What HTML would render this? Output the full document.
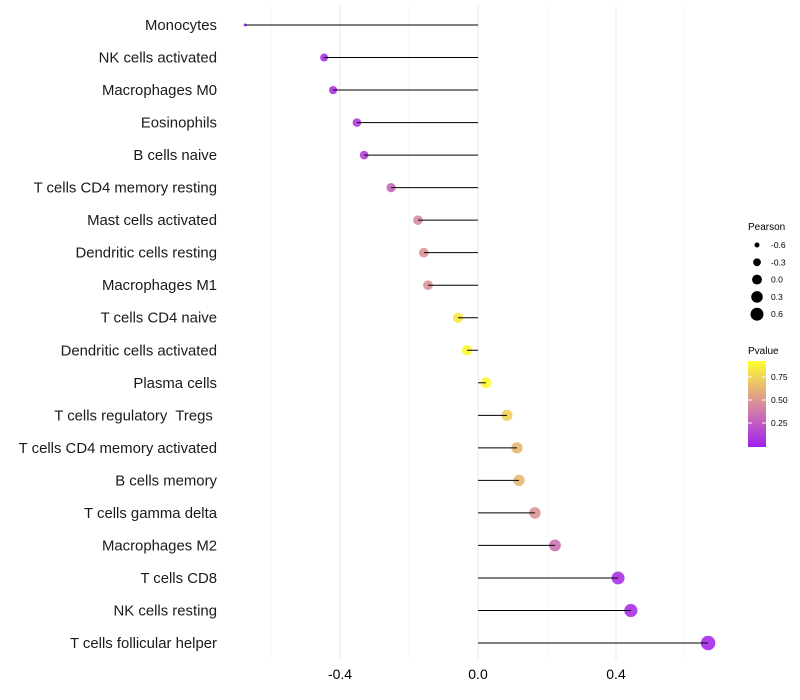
<!DOCTYPE html>
<html><head><meta charset="utf-8"><style>
body{margin:0;background:#fff;font-family:"Liberation Sans",sans-serif}
svg{display:block}
.yl{white-space:pre}
</style></head><body>
<svg id="chart" width="800" height="700">
<defs><linearGradient id="pg" x1="0" y1="1" x2="0" y2="0">
<stop offset="0" stop-color="#a020f0"/><stop offset="0.5" stop-color="#d98c9c"/><stop offset="1" stop-color="#ffff2e"/></linearGradient></defs>
<g id="grid"></g><g id="dots"></g><g id="stems"></g><g id="ylabels"></g><g id="xlabels"></g>
<g>
<text x="748" y="230" font-size="10" fill="#000">Pearson</text>
<g id="sizeleg"></g>
</g>
<g>
<text x="748" y="354" font-size="10" fill="#000">Pvalue</text>
<rect x="748" y="361" width="18" height="86" fill="url(#pg)"/>
<g id="colleg"></g>
</g>
</svg>
<script>
const categories=["Monocytes","NK cells activated","Macrophages M0","Eosinophils","B cells naive","T cells CD4 memory resting","Mast cells activated","Dendritic cells resting","Macrophages M1","T cells CD4 naive","Dendritic cells activated","Plasma cells","T cells regulatory  Tregs ","T cells CD4 memory activated","B cells memory","T cells gamma delta","Macrophages M2","T cells CD8","NK cells resting","T cells follicular helper"];
const pearson=[-0.675,-0.446,-0.42,-0.351,-0.33,-0.252,-0.174,-0.157,-0.145,-0.058,-0.032,0.023,0.084,0.113,0.119,0.165,0.223,0.406,0.443,0.667];
const pvalue=[0.01,0.05,0.06,0.1,0.12,0.3,0.45,0.5,0.5,0.85,0.92,0.92,0.75,0.65,0.65,0.5,0.35,0.05,0.04,0.02];
const xTicks=[-0.4,0,0.4];
const xTickLabels=["-0.4","0.0","0.4"];
const sizeLegend=[-0.6,-0.3,0.0,0.3,0.6];
const colorTicks=[0.25,0.5,0.75];
const NS="http://www.w3.org/2000/svg";
const X=v=>478+v*345;
const Y=i=>25+i*(618/19);
const R=v=>v<-0.45?Math.max(1.4,4-(-0.45-v)*11):4+2.9*(v+0.45);
const LR=v=>Math.sqrt(6.25+(v+0.6)*30);
function col(p){const t=Math.min(1,Math.max(0,(p-0.01)/0.92));
 const a=[166,40,236],b=[217,140,156],c=[255,250,50];
 let u,s,e;if(t<0.5){u=t/0.5;s=a;e=b}else{u=(t-0.5)/0.5;s=b;e=c}
 return `rgb(${s.map((x,k)=>Math.round(x+(e[k]-x)*u)).join(',')})`;}
function mk(t,at,p){const el=document.createElementNS(NS,t);for(const k in at)el.setAttribute(k,at[k]);p.appendChild(el);return el;}
const grid=document.getElementById('grid');
[-0.6,-0.2,0.2,0.6].forEach(v=>{const l=mk('line',{x1:X(v),x2:X(v),y1:5,y2:660,stroke:'#f2f2f2','stroke-width':0.6},grid);

});
xTicks.forEach((v,i)=>{const l=mk('line',{x1:X(v),x2:X(v),y1:5,y2:660,stroke:'#ebebeb','stroke-width':1.1},grid);


const t=mk('text',{x:X(v),y:679,'font-size':14,'text-anchor':'middle',fill:'#000'},document.getElementById('xlabels'));t.textContent=xTickLabels[i];

});
const dots=document.getElementById('dots'),stems=document.getElementById('stems'),yl=document.getElementById('ylabels');
categories.forEach((c,i)=>{const y=Y(i);
const d=mk('circle',{cx:X(pearson[i]),cy:y,r:R(pearson[i]),fill:col(pvalue[i]),'fill-opacity':0.9},dots);


const l=mk('line',{x1:X(0),x2:X(pearson[i]),y1:y,y2:y,stroke:'#000','stroke-width':1},stems);


const t=mk('text',{x:217,y:y+5,'font-size':14.9,'text-anchor':'end',fill:'#1a1a1a','class':'yl'},yl);t.textContent=c;

});
const sl=document.getElementById('sizeleg');
sizeLegend.forEach((v,i)=>{const y=245+i*17.3;
const c=mk('circle',{cx:757,cy:y,r:LR(v),fill:'#000'},sl);


const t=mk('text',{x:771,y:y+3,'font-size':8.5,fill:'#000'},sl);t.textContent=v.toFixed(1);

});
const cl=document.getElementById('colleg');
colorTicks.forEach(v=>{const y=446-v*92;
const l=mk('line',{x1:748,x2:752,y1:y,y2:y,stroke:'#fff'},cl);


const l2=mk('line',{x1:762,x2:766,y1:y,y2:y,stroke:'#fff'},cl);


const t=mk('text',{x:771,y:y+3,'font-size':8.5,fill:'#000'},cl);t.textContent=v.toFixed(2);

});
</script>
</body></html>
